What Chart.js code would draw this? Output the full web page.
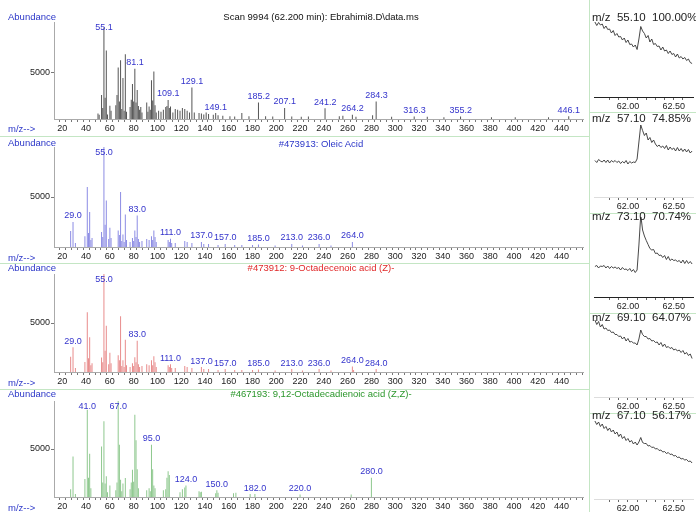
<!DOCTYPE html>
<html>
<head>
<meta charset="utf-8">
<script src="https://cdn.jsdelivr.net/npm/chart.js@4.4.1/dist/chart.umd.min.js"></script>
<style>
body { margin: 0; background: #fff; }
#wrap { position: relative; width: 696px; height: 512px; overflow: hidden; background: #fff;
        font-family: "Liberation Sans", Arial, sans-serif; }
canvas { position: absolute; }
.t { position: absolute; white-space: pre; font-size: 9.5px; line-height: 12px; height: 12px; }
.blue { color: #2b36c8; }
.big { font-size: 11.5px; line-height: 14px; height: 14px; color: #222; }
.hl { position: absolute; background: #c4e6c4; }
</style>
</head>
<body>
<div id="wrap">
  <canvas id="s1" width="588" height="136" style="left:0;top:0"></canvas>
  <canvas id="s2" width="588" height="127" style="left:0;top:136px"></canvas>
  <canvas id="s3" width="588" height="126" style="left:0;top:263px"></canvas>
  <canvas id="s4" width="588" height="123" style="left:0;top:389px"></canvas>

  <canvas id="c1" width="106" height="112" style="left:590px;top:0"></canvas>
  <canvas id="c2" width="106" height="101" style="left:590px;top:112px"></canvas>
  <canvas id="c3" width="106" height="100" style="left:590px;top:213px"></canvas>
  <canvas id="c4" width="106" height="100" style="left:590px;top:313px"></canvas>
  <canvas id="c5" width="106" height="99" style="left:590px;top:413px"></canvas>

  <div class="hl" style="left:0;top:136px;width:589px;height:1px"></div>
  <div class="hl" style="left:0;top:263px;width:589px;height:1px"></div>
  <div class="hl" style="left:0;top:389px;width:589px;height:1px"></div>
  <div class="hl" style="left:589px;top:0;width:1px;height:512px"></div>
  <div class="hl" style="left:590px;top:112px;width:106px;height:1px"></div>
  <div class="hl" style="left:590px;top:213px;width:106px;height:1px"></div>
  <div class="hl" style="left:590px;top:313px;width:106px;height:1px"></div>
  <div class="hl" style="left:590px;top:413px;width:106px;height:1px"></div>

  <div class="t blue" style="left:8px;top:11px">Abundance</div>
  <div class="t blue" style="left:8px;top:123px">m/z--&gt;</div>
  <div class="t" style="left:0;width:642px;text-align:center;top:11px;color:#111">Scan 9994 (62.200 min): Ebrahimi8.D\data.ms</div>

  <div class="t blue" style="left:8px;top:137px">Abundance</div>
  <div class="t blue" style="left:8px;top:252px">m/z--&gt;</div>
  <div class="t blue" style="left:0;width:642px;text-align:center;top:138px">#473913: Oleic Acid</div>

  <div class="t blue" style="left:8px;top:262px">Abundance</div>
  <div class="t blue" style="left:8px;top:377px">m/z--&gt;</div>
  <div class="t" style="left:0;width:642px;text-align:center;top:262px;color:#e02828">#473912: 9-Octadecenoic acid (Z)-</div>

  <div class="t blue" style="left:8px;top:388px">Abundance</div>
  <div class="t blue" style="left:8px;top:502px">m/z--&gt;</div>
  <div class="t" style="left:0;width:642px;text-align:center;top:388px;color:#2a962a">#467193: 9,12-Octadecadienoic acid (Z,Z)-</div>

  <div class="t big" style="left:592px;top:10px">m/z  55.10  100.00%</div>
  <div class="t big" style="left:592px;top:111px">m/z  57.10  74.85%</div>
  <div class="t big" style="left:592px;top:209px">m/z  73.10  70.74%</div>
  <div class="t big" style="left:592px;top:310px">m/z  69.10  64.07%</div>
  <div class="t big" style="left:592px;top:408px">m/z  67.10  56.17%</div>
</div>

<script>
// scan spectrum
const mz1 = [50,51,53,54,55,56,57,58,60,61,65,66,67,68,69,70,71,72,73,74,77,78,79,80,81,82,83,84,85,86,87,91,92,93,94,95,96,97,98,99,101,103,105,107,108,109,110,111,113,115,117,119,121,123,125,127,129,131,135,137,139,141,143,147,149,151,155,161,165,171,177,185,191,197,207,213,221,227,241,253,256,264,267,281,284,297,316,327,341,355,381,401,429,446];
const ab1 = [600,450,2600,1200,9950,2300,7450,500,1430,900,1500,2600,5590,1900,6380,1100,4450,900,7040,800,1300,2100,3800,1900,5460,1800,3140,1400,1000,1300,700,1800,800,1350,1000,4200,2000,5150,1500,700,900,800,1000,1300,1400,2070,1200,1350,700,1100,1000,900,1200,1100,900,700,3430,700,650,600,500,700,550,450,640,400,350,300,280,640,300,1800,300,280,1200,280,250,280,1180,300,350,450,250,400,1900,250,280,250,200,260,200,180,200,300];
const labels1 = ['55.1','81.1','109.1','129.1','149.1','185.2','207.1','241.2','264.2','284.3','316.3','355.2','446.1'];

// #473913 Oleic Acid
const mz2 = [27,29,31,39,41,42,43,44,45,53,54,55,56,57,59,60,61,67,68,69,70,71,72,73,74,77,79,80,81,82,83,84,85,87,91,93,95,96,97,98,99,109,110,111,112,115,123,125,129,137,139,143,151,157,165,171,180,185,199,213,222,236,246,264];
const ab2 = [1600,2500,400,1070,6000,1400,3500,700,900,1500,1000,9999,2230,4660,800,1930,900,1660,1200,5500,600,1260,500,3260,700,500,900,600,1660,1000,3160,800,500,600,800,700,1070,700,1660,1000,500,700,500,830,400,400,600,500,400,500,300,300,200,300,200,200,200,250,150,300,150,300,150,500];
const labels2 = ['29.0','55.0','83.0','111.0','137.0','157.0','185.0','213.0','236.0','264.0'];

// #473912 9-Octadecenoic acid (Z)-
const mz3 = [27,29,31,39,41,42,43,44,45,53,54,55,56,57,59,60,61,67,68,69,70,71,72,73,74,77,79,80,81,82,83,84,85,87,91,93,95,96,97,98,99,109,110,111,112,115,123,125,129,137,139,143,151,157,165,171,180,185,199,213,222,236,246,264,265,284];
const ab3 = [1550,2520,400,1030,6100,1400,3550,700,900,1480,1000,9999,2170,4730,800,1970,900,1720,1200,5690,600,1200,500,3280,700,500,900,600,1500,1000,3200,800,500,600,800,700,1200,700,1600,1000,500,700,500,800,400,400,600,500,400,500,300,300,200,300,200,200,200,250,150,300,150,300,150,550,200,300];
const labels3 = ['29.0','55.0','83.0','111.0','137.0','157.0','185.0','213.0','236.0','264.0','284.0'];

// #467193 9,12-Octadecadienoic acid (Z,Z)-
const mz4 = [27,29,31,39,41,42,43,44,53,54,55,56,57,58,60,65,66,67,68,69,70,71,73,77,78,79,80,81,82,83,84,91,93,94,95,96,97,98,105,107,108,109,110,119,121,123,124,135,136,137,149,150,151,164,166,178,182,220,263,280];
const ab4 = [800,4230,300,1870,9100,2000,4510,900,5270,1500,7880,1400,2150,500,1200,700,1500,9999,5450,1800,600,1400,1980,800,1500,2850,1600,8570,5900,2900,900,700,900,600,5450,2900,1200,900,700,800,2000,2670,2300,500,800,1000,1200,600,500,550,400,700,450,400,450,300,300,250,250,2000];
const labels4 = ['41.0','67.0','95.0','124.0','150.0','182.0','220.0','280.0'];

const xTickLabels = [20,40,60,80,100,120,140,160,180,200,220,240,260,280,300,320,340,360,380,400,420,440];
const yTickLabels = [5000];

// ion chromatograms (retention time, min)
const times = [61.64,61.66,61.68,61.70,61.72,61.74,61.76,61.78,61.80,61.82,61.84,61.86,61.88,61.90,61.92,61.94,61.96,61.98,62.00,62.02,62.04,62.06,62.08,62.10,62.12,62.14,62.16,62.18,62.20,62.22,62.24,62.26,62.28,62.30,62.32,62.34,62.36,62.38,62.40,62.42,62.44,62.46,62.48,62.50,62.52,62.54,62.56,62.58,62.60,62.62,62.64,62.66,62.68,62.70];
const ion55 = [75,71.5,74.5,72,73,68.5,71,67.5,68,64,66.5,61.5,63.5,60,60.5,57,59,54.5,57,52.5,53,50,52,47.5,58,70.5,66,63.5,59,61.5,55,58,52.5,53.5,50.5,51,47,50,46,47,43.5,46,42.5,43.5,40,43,39,40.5,38,39.5,36.5,38,34.5,33.5];
const ion57 = [36.5,34.5,37.5,36,35,37,34.5,37,34,36.5,35,36.5,34.5,36,33.5,35.5,34,36.5,33,35.5,34,35,34.5,38,55,72,66.5,61.5,64,57,59.5,54.5,57,53,50.5,52,49.5,51,48.5,51.5,47,50,47.5,49,46,49.5,46,48.5,45.5,48,45,47.5,44,46];
const ion73 = [30.5,31.5,29,31,30.5,31.5,29,31,28.5,30.5,29,30,28.5,29.5,27,29.5,27.5,28,26.5,28.5,25.5,27.5,24.5,27,52,82,67,61,56.5,52.5,48.5,47,47.5,43.5,44,41.5,42,39.5,41.5,37.5,40.5,36.5,38,36.5,37,35.5,36.5,34,37,33.5,36.5,33.5,35.5,33];
const ion69 = [77,72.5,75.5,70,72.5,68,69,66.5,67,64.5,65,62.5,62.5,60.5,61,58,60,56,58.5,55,55.5,54,54,52,58,67,62.5,60.5,60.5,58,58.5,56,56.5,54.5,55,52,54.5,50.5,53,49.5,50.5,48.5,49.5,47,48,46,47,44.5,46.5,43,44.5,41.5,43,38.5];
const ion67 = [78,74.5,77,72.5,75,70.5,72.5,68.5,71,67,69,65,67,62.5,65,60.5,62.5,58.5,60.5,57,58.5,55,57,54,57,61.5,56.5,55.5,55.5,53,53.5,51.5,52,50,50.5,48.5,49,47,47.5,45.5,46.5,44.5,45,43,43.5,41.5,42,40,40.5,39,39.5,37.5,38,36];
const timeTicks = [61.8,61.9,62.0,62.1,62.2,62.3,62.4,62.5,62.6];
const timeLabels = [62.0, 62.5];

const FONT = '"Liberation Sans", Arial, sans-serif';

const peakLabels = {
  id: 'peakLabels',
  afterDatasetsDraw(chart, args, opts) {
    if (!opts.labels) return;
    const {ctx, chartArea, scales: {x, y}} = chart;
    ctx.save();
    ctx.font = '9px ' + FONT;
    ctx.fillStyle = '#3434cc';
    ctx.textAlign = 'center';
    ctx.textBaseline = 'middle';
    opts.labels.forEach(t => {
      const m = parseFloat(t);
      const i = opts.mz.indexOf(Math.round(m));
      const v = i >= 0 ? opts.ab[i] : 0;
      const py = Math.max(y.getPixelForValue(v) - 6, chartArea.top + 6);
      ctx.fillText(t, x.getPixelForValue(m), py);
    });
    ctx.restore();
  }
};

function spectrum(id, mz, ab, labels, color, ymax, padTop, xh) {
  const minor = [];
  for (let v = 15; v <= 455; v += 5) minor.push(v);
  new Chart(document.getElementById(id), {
    type: 'bar',
    data: {
      datasets: [{
        data: mz.map((m, i) => ({x: m, y: ab[i]})),
        backgroundColor: color,
        barThickness: 1,
        inflateAmount: 0
      }]
    },
    options: {
      responsive: false,
      animation: false,
      layout: {padding: {top: padTop, right: 5, left: 0, bottom: 0}},
      plugins: {
        legend: {display: false},
        tooltip: {enabled: false},
        peakLabels: {labels: labels, mz: mz, ab: ab}
      },
      scales: {
        x: {
          type: 'linear', min: 13, max: 458, offset: false,
          grid: {drawOnChartArea: false, tickLength: 3, color: '#777'},
          border: {color: '#aaa'},
          ticks: {
            autoSkip: false, maxRotation: 0, padding: 1, color: '#222',
            font: {family: FONT, size: 9},
            callback: v => xTickLabels.includes(v) ? String(v) : ''
          },
          afterBuildTicks: s => { s.ticks = minor.map(v => ({value: v})); },
          afterFit: s => { s.height = xh; }
        },
        y: {
          min: 0, max: ymax,
          grid: {drawOnChartArea: false, tickLength: 3, color: '#777'},
          border: {color: '#aaa'},
          ticks: {padding: 1, color: '#222', font: {family: FONT, size: 9}, callback: v => String(v)},
          afterBuildTicks: s => { s.ticks = yTickLabels.map(v => ({value: v})); },
          afterFit: s => { s.width = 54; }
        }
      }
    },
    plugins: [peakLabels]
  });
}

function chromatogram(id, values, axisColor, padTop, xh) {
  new Chart(document.getElementById(id), {
    type: 'line',
    data: {
      datasets: [{
        data: times.map((t, i) => ({x: t, y: values[i]})),
        borderColor: '#333',
        borderWidth: 0.9,
        pointRadius: 0,
        tension: 0
      }]
    },
    options: {
      responsive: false,
      animation: false,
      layout: {padding: {top: padTop, right: 3, left: 4, bottom: 0}},
      plugins: {legend: {display: false}, tooltip: {enabled: false}},
      scales: {
        x: {
          type: 'linear', min: 61.63, max: 62.71,
          grid: {drawOnChartArea: false, tickLength: 3, color: '#666'},
          border: {color: axisColor},
          ticks: {
            autoSkip: false, maxRotation: 0, padding: 1, color: '#222',
            font: {family: FONT, size: 9},
            callback: v => timeLabels.some(l => Math.abs(l - v) < 1e-6) ? v.toFixed(2) : ''
          },
          afterBuildTicks: s => { s.ticks = timeTicks.map(v => ({value: v})); },
          afterFit: s => { s.height = xh; }
        },
        y: {display: false, min: 0, max: 80}
      }
    }
  });
}

spectrum('s1', mz1, ab1, labels1, '#555', 10543, 22, 17);
spectrum('s2', mz2, ab2, labels2, '#8c8ce4', 10000, 11, 16);
spectrum('s3', mz3, ab3, labels3, '#e88c8c', 10000, 11, 17);
spectrum('s4', mz4, ab4, labels4, '#8ec88e', 10000, 12, 15);

chromatogram('c1', ion55, '#222', 17, 15);
chromatogram('c2', ion57, '#ddd', 5, 16);
chromatogram('c3', ion73, '#222', 4, 16);
chromatogram('c4', ion69, '#ddd', 4, 16);
chromatogram('c5', ion67, '#ddd', 6, 13);
</script>
</body>
</html>
